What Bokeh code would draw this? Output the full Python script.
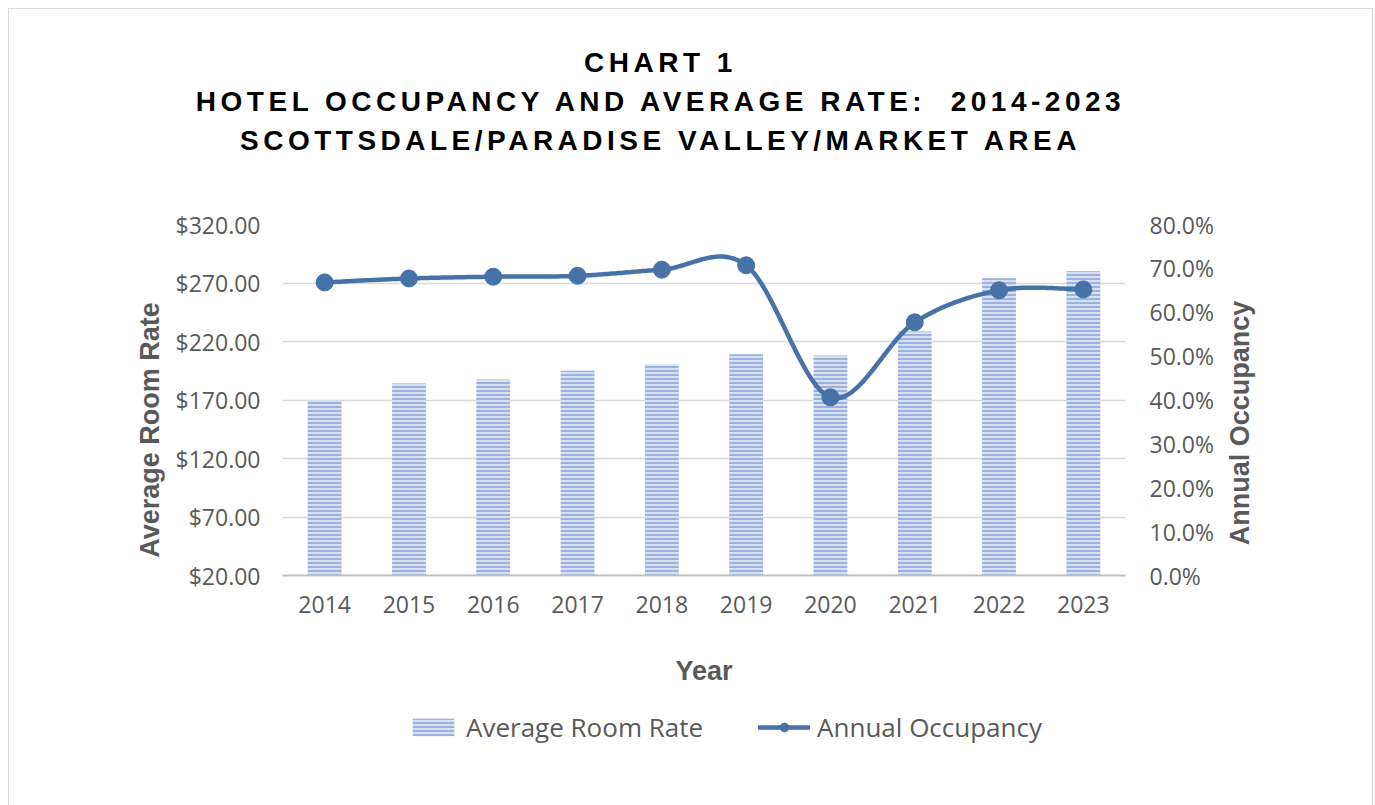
import numpy as np
from bokeh.plotting import figure
from bokeh.layouts import column, row
from bokeh.models import (Range1d, LinearAxis, FixedTicker, NumeralTickFormatter,
                          Legend, LegendItem, ColumnDataSource, Div)
from bokeh.embed import file_html
from bokeh.resources import INLINE

# ---- data ----
years = [2014, 2015, 2016, 2017, 2018, 2019, 2020, 2021, 2022, 2023]
avg_room_rate = [170.0, 184.0, 187.5, 195.0, 200.5, 209.0, 208.0, 228.5, 274.0, 280.0]
annual_occupancy = [0.668, 0.677, 0.681, 0.683, 0.697, 0.707, 0.406, 0.577, 0.650, 0.652]
rate_ticks = [20, 70, 120, 170, 220, 270, 320]
occ_ticks = [0.0, 0.1, 0.2, 0.3, 0.4, 0.5, 0.6, 0.7, 0.8]
title_lines = ["CHART 1",
               "HOTEL OCCUPANCY AND AVERAGE RATE:  2014-2023",
               "SCOTTSDALE/PARADISE VALLEY/MARKET AREA"]
x_title = "Year"
left_title = "Average Room Rate"
right_title = "Annual Occupancy"
series_names = ["Average Room Rate", "Annual Occupancy"]

GRAY = "#595959"
LINE_BLUE = "#4672A8"
BAR_FILL = "#d7e0f2"
BAR_HATCH = "#9cb1dc"
TICK_FONT = "Open Sans"
BOLD_FONT = "Liberation Sans"

# ---- layout sizes ----
TITLE_H = 175
LEFT_W = 155
FIG_W = 1058
RIGHT_W = 150
PLOT_H = 516
LEG_H = 105


def smooth_curve(xs, ys, n=40):
    """Excel-like smoothed line (Catmull-Rom Bezier through the data points)."""
    xs = np.asarray(xs, float)
    ys = np.asarray(ys, float)
    px = np.concatenate([[xs[0]], xs, [xs[-1]]])
    py = np.concatenate([[ys[0]], ys, [ys[-1]]])
    t = np.linspace(0, 1, n)
    ox, oy = [], []
    for i in range(len(xs) - 1):
        p0 = np.array([px[i], py[i]])
        p1 = np.array([px[i + 1], py[i + 1]])
        p2 = np.array([px[i + 2], py[i + 2]])
        p3 = np.array([px[i + 3], py[i + 3]])
        c1 = p1 + (p2 - p0) / 6.0
        c2 = p2 - (p3 - p1) / 6.0
        b = ((1 - t) ** 3)[:, None] * p1 + (3 * (1 - t) ** 2 * t)[:, None] * c1 \
            + (3 * (1 - t) * t ** 2)[:, None] * c2 + (t ** 3)[:, None] * p2
        if i > 0:
            b = b[1:]
        ox.extend(b[:, 0].tolist())
        oy.extend(b[:, 1].tolist())
    return ox, oy


bar_style = dict(fill_color=BAR_FILL, line_color=None,
                 hatch_pattern="horizontal_line", hatch_color=BAR_HATCH,
                 hatch_weight=2, hatch_scale=4)
line_style = dict(line_color=LINE_BLUE, line_width=4.5, line_cap="round", line_join="round")
dot_style = dict(size=17, fill_color=LINE_BLUE, line_color=LINE_BLUE)

# ---- main plot ----
p = figure(width=FIG_W, height=PLOT_H, output_backend="svg", toolbar_location=None,
           x_range=Range1d(2013.5, 2023.5), y_range=Range1d(20, 320),
           min_border_left=118, min_border_right=97,
           min_border_top=40, min_border_bottom=125)
p.outline_line_color = None
p.background_fill_color = "white"
p.border_fill_color = "white"
p.margin = 0
p.extra_y_ranges = {"occ": Range1d(0, 0.8)}

src = ColumnDataSource(dict(x=years, top=avg_room_rate))
p.vbar(x="x", top="top", bottom=20, width=0.4, source=src, **bar_style)

sx, sy = smooth_curve(years, annual_occupancy)
p.line(sx, sy, y_range_name="occ", **line_style)
p.scatter(years, annual_occupancy, y_range_name="occ", **dot_style)

xa = p.xaxis[0]
xa.ticker = FixedTicker(ticks=years)
xa.axis_label = x_title
xa.axis_line_color = "#bfbfbf"
xa.axis_line_width = 2
xa.major_tick_line_color = None
xa.minor_tick_line_color = None
xa.major_label_standoff = 14
xa.axis_label_standoff = 40

ya = p.yaxis[0]
ya.ticker = FixedTicker(ticks=rate_ticks)
ya.formatter = NumeralTickFormatter(format="$0.00")
ya.axis_line_color = None
ya.major_tick_line_color = None
ya.minor_tick_line_color = None
ya.major_label_standoff = 16

ra = LinearAxis(y_range_name="occ", ticker=FixedTicker(ticks=occ_ticks),
                formatter=NumeralTickFormatter(format="0.0%"))
ra.axis_line_color = None
ra.major_tick_line_color = None
ra.minor_tick_line_color = None
ra.major_label_standoff = 18
p.add_layout(ra, "right")

for ax in (xa, ya, ra):
    ax.major_label_text_font = TICK_FONT
    ax.major_label_text_font_size = "23px"
    ax.major_label_text_color = GRAY
    ax.axis_label_text_font = BOLD_FONT
    ax.axis_label_text_font_style = "bold"
    ax.axis_label_text_font_size = "27px"
    ax.axis_label_text_color = GRAY

p.xgrid.grid_line_color = None
p.ygrid.grid_line_color = "#d9d9d9"
p.ygrid.grid_line_width = 1.5
p.ygrid.ticker = FixedTicker(ticks=rate_ticks)

# ---- legend strip (same series and glyph styles, drawn outside its own view) ----
lf = figure(width=FIG_W, height=LEG_H, output_backend="svg", toolbar_location=None,
            x_range=Range1d(0, 1), y_range=Range1d(0, 1),
            x_axis_type=None, y_axis_type=None, min_border=0)
lf.outline_line_color = None
lf.grid.visible = False
lf.margin = 0
lg_bar = lf.vbar(x=years, top=avg_room_rate, bottom=20, width=0.4, **bar_style)
lg_line = lf.line(years, annual_occupancy, **line_style)
lg_dot = lf.scatter(years, annual_occupancy, **dot_style)
legend = Legend(items=[LegendItem(label=series_names[0], renderers=[lg_bar]),
                       LegendItem(label=series_names[1], renderers=[lg_line, lg_dot])],
                location=(125, 60), orientation="horizontal",
                glyph_width=52, glyph_height=22, label_standoff=7, spacing=55,
                padding=0, margin=0, border_line_color=None,
                background_fill_alpha=0,
                label_text_font=TICK_FONT, label_text_font_size="26px",
                label_text_color=GRAY)
lf.add_layout(legend, "center")

# ---- text blocks around the plot ----
title_html = "".join(
    f'<div style="height:39px;line-height:39px;">{t}</div>' for t in title_lines)
title_div = Div(
    text=(f'<div style="width:1303px;padding-top:34px;text-align:center;'
          f'font-family:\'Liberation Sans\';font-weight:bold;font-size:28px;'
          f'letter-spacing:4.5px;color:black;white-space:pre;">{title_html}</div>'),
    width=LEFT_W + FIG_W + RIGHT_W, height=TITLE_H, margin=0)


def vertical_label(txt, w, cx, cy):
    h = PLOT_H + LEG_H
    return Div(
        text=(f'<div style="position:relative;width:{w}px;height:{h}px;">'
              f'<div style="position:absolute;left:{cx}px;top:{cy}px;'
              f'transform:translate(-50%,-50%) rotate(-90deg);white-space:nowrap;'
              f'font-family:\'Liberation Sans\';font-weight:bold;font-size:27px;'
              f'color:{GRAY};">{txt}</div></div>'),
        width=w, height=h, margin=0)


left_div = vertical_label(left_title, LEFT_W, 141, 246)
right_div = vertical_label(right_title, RIGHT_W, 18, 239)

layout = column(
    title_div,
    row(left_div, column(p, lf, spacing=0), right_div, spacing=0),
    spacing=0,
    styles={"border": "1px solid #d9d9d9", "margin-left": "8px", "margin-top": "8px"},
)

open("out.html", "w").write(file_html(layout, INLINE))
